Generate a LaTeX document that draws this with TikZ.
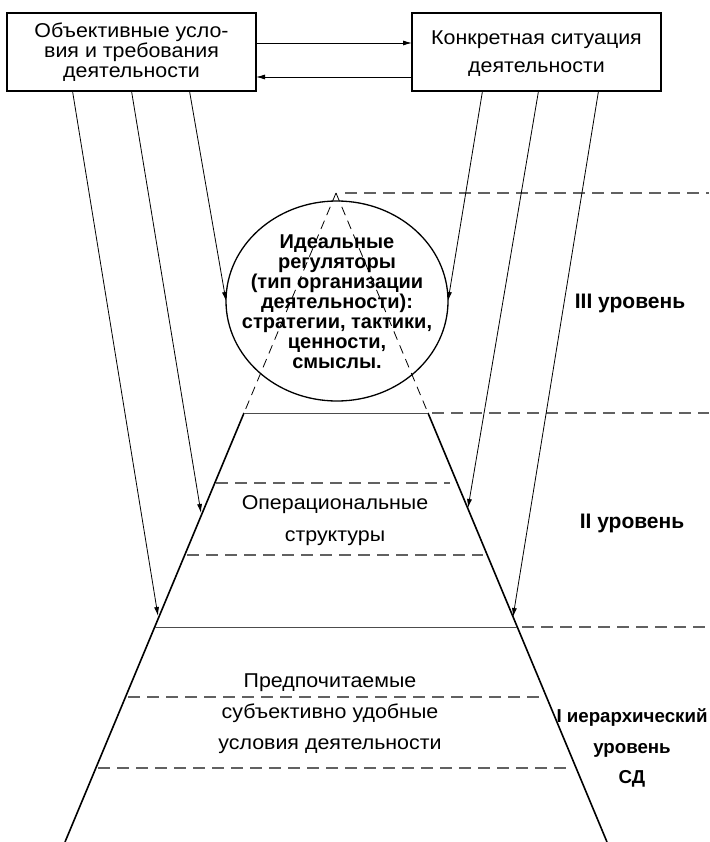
\documentclass[tikz,border=0pt]{standalone}
\usepackage{fontspec}
\setmainfont{Liberation Sans}
\newfontfamily\regfont{Liberation Sans}[FakeStretch=1.07]
\usetikzlibrary{arrows.meta,shapes.geometric}
\begin{document}
\begin{tikzpicture}[x=1pt,y=-1pt,
  box/.style={draw,line width=1.4pt,minimum width=249pt,minimum height=78pt,inner sep=0pt,outer sep=0pt,align=center},
  conn/.style={line width=0.8pt,-{Latex[length=9pt,width=5pt]}},
  side/.style={line width=1.6pt},
  gdash/.style={draw=black!62,line width=1.4pt,dash pattern=on 12pt off 7pt},
  tdash/.style={line width=0.8pt,dash pattern=on 9pt off 6pt},
  thin/.style={draw=black!70,line width=1pt},
  lvl/.style={font=\bfseries\fontsize{21}{30}\selectfont,align=center,inner sep=0pt},
  body/.style={align=center,inner sep=0pt},
]
\useasboundingbox (0,0) rectangle (709,842);
% boxes
\node[box,font=\regfont\fontsize{20}{20}\selectfont] (L) at (131.5,52) {Объективные усло-\\вия и требования\\деятельности};
\node[box] (R) at (536.5,52) {};
\node[body,font=\regfont\fontsize{20}{28}\selectfont] (Rt) at (536.5,54) {Конкретная ситуация\\деятельности};
\draw[conn] ([yshift=9pt]L.east) -- ([yshift=9pt]R.west);
\draw[conn] ([yshift=-25pt]R.west) -- ([yshift=-25pt]L.east);
% pyramid geometry
\coordinate (A) at (336,193);
\coordinate (lt) at (244,413);
\coordinate (rt) at (428,413);
\coordinate (lb) at (65,842);
\coordinate (rb) at (607,842);
% circle
\node[ellipse,draw,line width=1.3pt,minimum width=222pt,minimum height=200pt,inner sep=0pt,outer sep=0pt] (C) at (337,301) {};
% dashed triangle
\draw[tdash] (A) -- (lt);
\draw[tdash] (A) -- (rt);
% circle text
\node[body,font=\bfseries\fontsize{20}{20}\selectfont] (Ct) at (337,302) {Идеальные\\регуляторы\\(тип организации\\деятельности):\\стратегии, тактики,\\ценности,\\смыслы.};
% trapezoid sides
\draw[side] (lt) -- (lb);
\draw[side] (rt) -- (rb);
% horizontal lines
\draw[gdash] (345,193) -- (709,193);
\draw[thin] (lt) -- (rt);
\draw[gdash] (432,413) -- (709,413);
\draw[gdash] (216,483) -- (450,483);
\draw[gdash] (187,555) -- (483,555);
\draw[thin] (155,627) -- (517,627);
\draw[gdash] (522,627) -- (709,627);
\draw[gdash] (128,697) -- (545,697);
\draw[gdash] (98,768) -- (570,768);
% arrow end points
\coordinate (t1) at (158,616);
\coordinate (t2) at (201,513);
\coordinate (t5) at (468,508);
\coordinate (t6) at (513,617);
\draw[conn] ([xshift=-59pt]L.south) -- (t1);
\draw[conn] (L.south) -- (t2);
\draw[conn] ([xshift=58pt]L.south) -- (C.west);
\draw[conn] ([xshift=-54pt]R.south) -- (C.east);
\draw[conn] ([xshift=2pt]R.south) -- (t5);
\draw[conn] ([xshift=62pt]R.south) -- (t6);
% texts
\node[body,font=\regfont\fontsize{20}{32}\selectfont] (op) at (335,521) {Операциональные\\структуры};
\node[body,font=\regfont\fontsize{20}{31}\selectfont] (pr) at (330,714) {Предпочитаемые\\субъективно удобные\\условия деятельности};
\node[lvl] (l3) at (630,303) {III уровень};
\node[lvl] (l2) at (632,523) {II уровень};
\node[lvl,font=\bfseries\fontsize{18.7}{30.5}\selectfont] (l1) at (632,748) {I иерархический\\уровень\\СД};
\end{tikzpicture}
\end{document}
